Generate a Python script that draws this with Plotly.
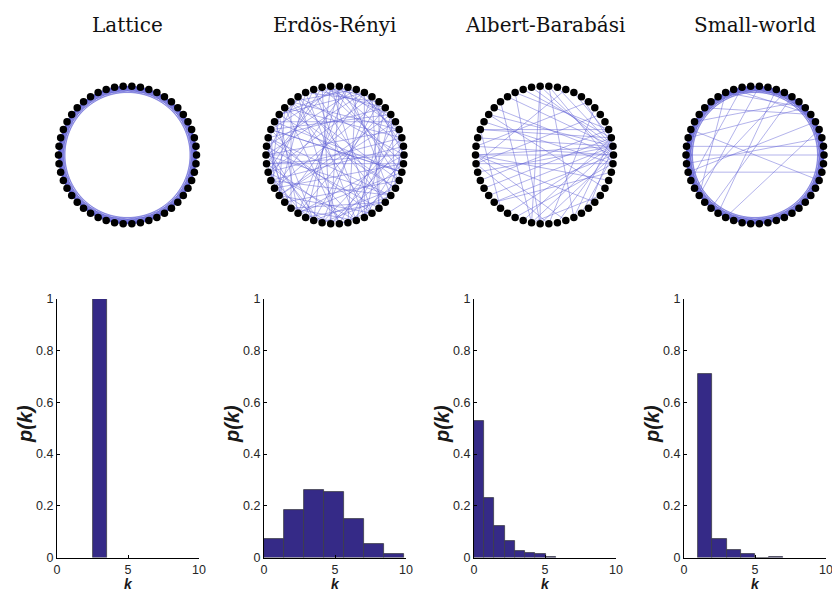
import math
import plotly.graph_objects as go

W, H = 832, 592

TITLES = ["Lattice", "Erdös-Rényi", "Albert-Barabási", "Small-world"]
N_NODES = 50
LATTICE_K = 7  # ring lattice: each node linked to K nearest neighbours on each side

ER_EDGES = [(0,17),(0,33),(0,41),(1,9),(1,28),(1,44),(2,19),(2,36),(3,12),(3,25),(3,47),(4,21),(4,38),
            (5,14),(5,30),(5,46),(6,23),(6,40),(7,16),(7,35),(8,27),(8,43),(9,20),(9,31),(10,24),(10,39),
            (11,29),(11,45),(12,22),(12,34),(13,26),(13,42),(14,37),(14,49),(15,28),(15,41),(16,30),(17,25),
            (17,44),(18,32),(18,47),(19,38),(20,33),(20,46),(21,35),(22,40),(22,48),(23,31),(24,43),(25,36),
            (26,39),(26,49),(27,34),(28,45),(29,37),(30,42),(31,47),(32,40),(33,48),(34,44),(35,46),(36,45),
            (37,49),(38,43),(39,47),(0,8),(1,13),(2,27),(3,18),(4,11),(5,22),(6,15),(7,29),(8,36),(9,41),
            (10,18),(11,33),(12,47),(13,35),(14,27),(15,44),(16,40),(17,38),(19,30),(20,28),(21,48),(23,42),
            (24,32),(25,45),(26,31),(27,40),(29,49),(32,44),(34,39),(2,10),(4,30),(6,33),(7,43),(9,25),(12,37),
            (16,21),(19,46),(24,35),(0,26),(3,39),(8,14),(11,20),(13,48),(18,42),(22,29),(31,36),(5,41),(1,37),
            (23,45),(0,25),(48,22)]

BA_EDGES = [(1,4),(1,8),(1,11),(1,14),(1,17),(1,20),(1,23),(1,25),(1,27),(1,30),(1,33),(1,36),(1,39),(1,43),
            (2,9),(2,15),(2,22),(2,29),(2,35),(0,13),(0,19),(0,24),(0,31),(0,37),(0,42),(49,12),(49,21),
            (49,26),(49,34),(3,16),(3,28),(25,40),(25,44),(25,47),(26,5),(26,10),(26,38),(24,7),(13,37),
            (13,36),(36,18),(36,45),(37,16),(38,6),(12,41),(20,46),(22,32),(0,25),(3,22),(2,41),(48,31)]

SW_CHORDS = [(0,25),(1,24),(6,23),(4,27),(12,30),(16,30),(8,32),(3,34),(16,6),(15,5),(2,26),(48,27),
             (7,21),(9,29),(5,19),(14,28),(47,22),(10,33)]

HIST_EDGES = [
    [2.5, 3.5],
    [0, 1.41, 2.82, 4.23, 5.64, 7.05, 8.46, 9.87],
    [0, 0.72, 1.44, 2.16, 2.88, 3.60, 4.32, 5.04, 5.76],
    [1, 2, 3, 4, 5, 6, 7],
]
HIST_VALUES = [
    [1.0],
    [0.071, 0.184, 0.260, 0.253, 0.148, 0.053, 0.014],
    [0.528, 0.231, 0.120, 0.064, 0.026, 0.017, 0.012, 0.003],
    [0.710, 0.073, 0.030, 0.015, 0.0, 0.003],
]
X_TICKS = [0, 5, 10]
Y_TICKS = [0, 0.2, 0.4, 0.6, 0.8, 1]

# ---- layout geometry (pixels) ----
HIST_LEFT = [57, 264, 474, 684]
HIST_W = 142
HIST_TOP, HIST_BOT = 299, 557.5
NET_CX = [127.5, 335, 544.5, 755]
NET_CY = 155
NET_R = 69
NET_HALF = 76

def px_x(p):
    return min(max(p / W, 0), 1)

def px_y(p):
    return min(max(1 - p / H, 0), 1)

lattice_edges = [(i, (i + d) % N_NODES) for i in range(N_NODES) for d in range(1, LATTICE_K + 1)]
networks = [lattice_edges, ER_EDGES, BA_EDGES, lattice_edges + SW_CHORDS]

angles = [2 * math.pi * i / N_NODES for i in range(N_NODES)]
node_x = [math.cos(a) for a in angles]
node_y = [math.sin(a) for a in angles]

fig = go.Figure()
layout = dict(
    width=W, height=H, margin=dict(l=0, r=0, t=0, b=0, pad=0),
    paper_bgcolor="white", plot_bgcolor="white", showlegend=False,
    bargap=0,
)
annotations = []
rng = NET_HALF / NET_R

for p in range(4):
    # ---- histogram ----
    hx = f"x{p+1}" if p else "x"
    hy = f"y{p+1}" if p else "y"
    e = HIST_EDGES[p]
    centers = [(e[i] + e[i + 1]) / 2 for i in range(len(e) - 1)]
    widths = [e[i + 1] - e[i] for i in range(len(e) - 1)]
    fig.add_trace(go.Bar(
        x=centers, y=HIST_VALUES[p], width=widths,
        marker=dict(color="#352a87", line=dict(color="#3c3c46", width=0.8)),
        xaxis=hx, yaxis=hy, hoverinfo="skip",
    ))
    ax_common = dict(showgrid=False, zeroline=False, showline=True, linecolor="black", linewidth=1,
                     ticks="inside", ticklen=3, tickcolor="black", automargin=False,
                     ticklabeloverflow="allow",
                     tickfont=dict(family="Liberation Sans, Arial", size=12.5, color="#262626"))
    layout[f"xaxis{p+1}" if p else "xaxis"] = dict(
        domain=[px_x(HIST_LEFT[p]), px_x(HIST_LEFT[p] + HIST_W)], range=[0, 10],
        tickvals=X_TICKS, anchor=hy, ticklabelstandoff=0, **ax_common)
    layout[f"yaxis{p+1}" if p else "yaxis"] = dict(
        domain=[px_y(HIST_BOT), px_y(HIST_TOP)], range=[0, 1],
        tickvals=Y_TICKS, anchor=hx, **ax_common)
    annotations.append(dict(text="<b><i>p(k)</i></b>", xref="paper", yref="paper",
                            x=px_x(HIST_LEFT[p] - 32), y=px_y(424), textangle=-90,
                            showarrow=False, xanchor="center", yanchor="middle",
                            font=dict(family="Liberation Sans, Arial", size=20, color="#1a1a1a")))
    annotations.append(dict(text="<b><i>k</i></b>", xref="paper", yref="paper",
                            x=px_x(HIST_LEFT[p] + HIST_W / 2), y=px_y(584),
                            showarrow=False, xanchor="center", yanchor="middle",
                            font=dict(family="Liberation Sans, Arial", size=14, color="#1a1a1a")))

    # ---- network ----
    nx = f"x{p+5}"
    ny = f"y{p+5}"
    ex, ey = [], []
    for a, b in networks[p]:
        ex += [node_x[a], node_x[b], None]
        ey += [node_y[a], node_y[b], None]
    fig.add_trace(go.Scatter(x=ex, y=ey, mode="lines",
                             line=dict(color="rgba(95,95,212,0.6)", width=0.8),
                             xaxis=nx, yaxis=ny, hoverinfo="skip"))
    fig.add_trace(go.Scatter(x=node_x, y=node_y, mode="markers",
                             marker=dict(color="black", size=7.5),
                             xaxis=nx, yaxis=ny, hoverinfo="skip", cliponaxis=False))
    hidden = dict(visible=False, showgrid=False, zeroline=False, automargin=False)
    layout[f"xaxis{p+5}"] = dict(domain=[px_x(NET_CX[p] - NET_HALF), px_x(NET_CX[p] + NET_HALF)],
                                 range=[-rng, rng], anchor=ny, **hidden)
    layout[f"yaxis{p+5}"] = dict(domain=[px_y(NET_CY + NET_HALF), px_y(NET_CY - NET_HALF)],
                                 range=[-rng, rng], anchor=nx, **hidden)
    annotations.append(dict(text=TITLES[p], xref="paper", yref="paper",
                            x=px_x(NET_CX[p]), y=px_y(25), showarrow=False,
                            xanchor="center", yanchor="middle",
                            font=dict(family="DejaVu Serif", size=20, color="#111111")))

layout["annotations"] = annotations
fig.update_layout(**layout)
fig.write_html("out.html")
